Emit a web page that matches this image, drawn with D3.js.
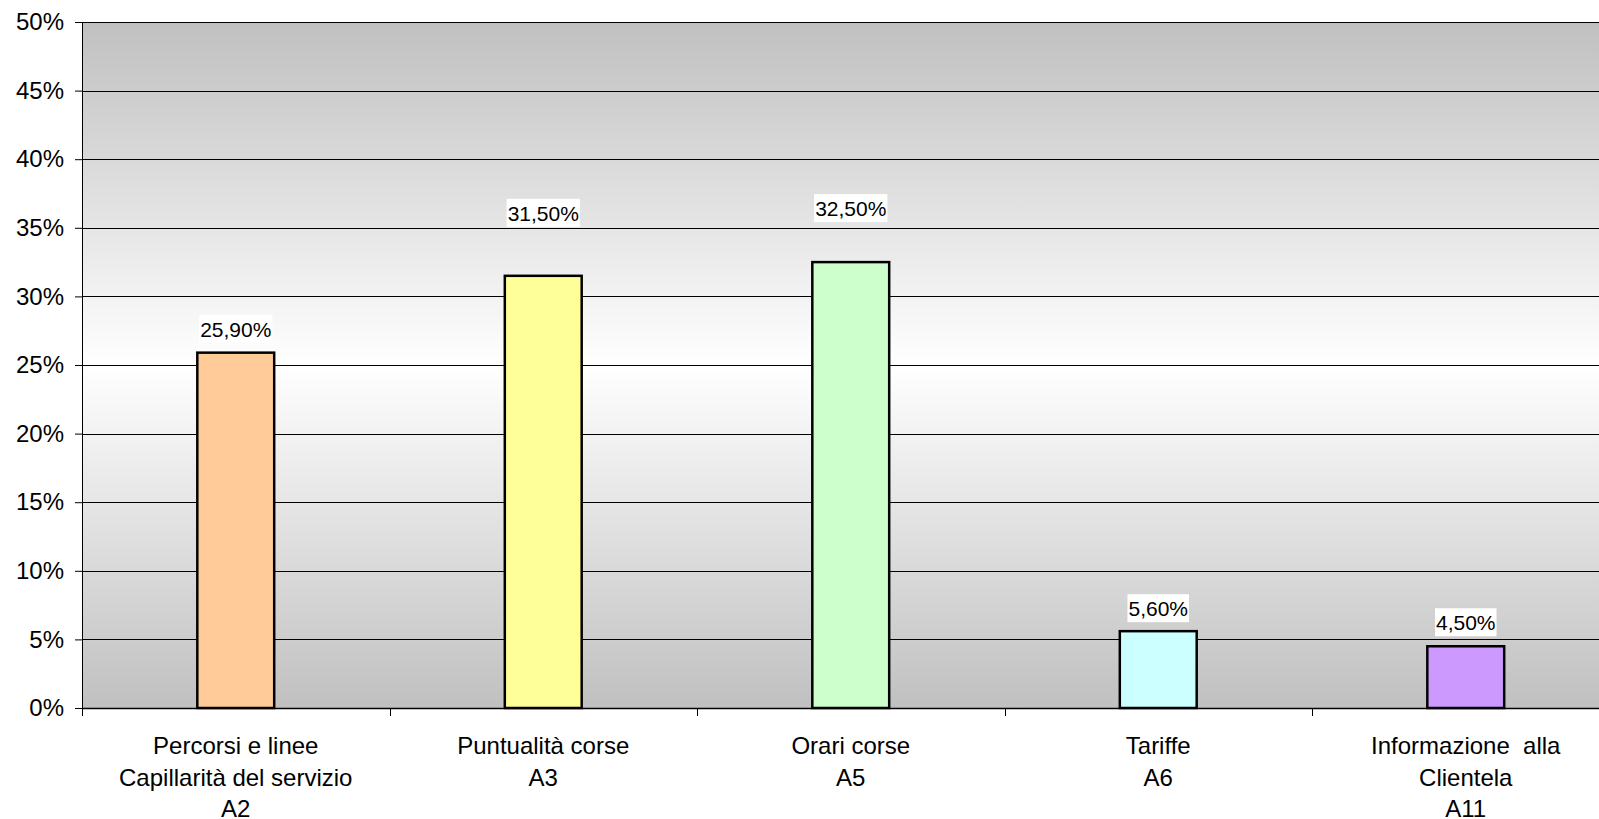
<!DOCTYPE html>
<html>
<head>
<meta charset="utf-8">
<script src="https://cdn.jsdelivr.net/npm/d3@7/dist/d3.min.js"></script>
<style>
	html, body { margin: 0; padding: 0; background: #fff; }
	svg { display: block; font-family: "Liberation Sans", Arial, sans-serif; }
	text.cat, text.cat tspan { white-space: pre; }
</style>
</head>
<body>
<svg id="chart" width="1599" height="819"></svg>
<script>
// chart data
var categories = ["A2", "A3", "A5", "A6", "A11"];
var categoryNames = [
	["Percorsi e linee", "Capillarità del servizio", "A2"],
	["Puntualità corse", "A3"],
	["Orari corse", "A5"],
	["Tariffe", "A6"],
	["Informazione  alla", "Clientela", "A11"]
];
var values = [25.9, 31.5, 32.5, 5.6, 4.5];
var valueLabels = ["25,90%", "31,50%", "32,50%", "5,60%", "4,50%"];
var barColors = ["#FFCC99", "#FFFF99", "#CCFFCC", "#CCFFFF", "#CC99FF"];
var yTicks = [0, 5, 10, 15, 20, 25, 30, 35, 40, 45, 50];

// layout
var margin = { left: 82, top: 22 };
var plotW = 1537.5;
var plotH = 686;
// the data labels sit a bit higher on A3 and A5 in the original
var labelLift = [10, 49, 40, 9, 10];

var svg = d3.select("#chart");

var defs = svg.append("defs");
var grad = defs.append("linearGradient")
	.attr("id", "bg")
	.attr("x1", 0).attr("y1", 0).attr("x2", 0).attr("y2", 1);
grad.append("stop").attr("offset", "0%").attr("stop-color", "#c0c0c0");
grad.append("stop").attr("offset", "50%").attr("stop-color", "#ffffff");
grad.append("stop").attr("offset", "100%").attr("stop-color", "#c0c0c0");

var g = svg.append("g").attr("transform", "translate(" + margin.left + "," + margin.top + ")");

var x = d3.scaleBand().domain(categories).range([0, plotW]).paddingInner(0).paddingOuter(0);
var y = d3.scaleLinear().domain([0, 50]).range([plotH, 0]);

g.append("rect")
	.attr("width", plotW)
	.attr("height", plotH)
	.attr("fill", "url(#bg)");

// gridlines
g.selectAll("line.grid")
	.data(yTicks.filter(function(t) { return t > 0; }))
	.enter().append("line")
	.attr("class", "grid")
	.attr("x1", 0).attr("x2", plotW)
	.attr("y1", function(d) { return Math.round(y(d)) + 0.5; })
	.attr("y2", function(d) { return Math.round(y(d)) + 0.5; })
	.attr("stroke", "#000")
	.attr("stroke-width", 1);

// y axis
var yAxis = d3.axisLeft(y)
	.tickValues(yTicks)
	.tickSize(7)
	.tickPadding(11)
	.tickFormat(function(d) { return d + "%"; });

var yg = g.append("g").call(yAxis);
yg.select(".domain").attr("stroke", "#000").attr("d", "M0.5," + plotH + "V0");
yg.selectAll(".tick line").attr("stroke", "#000");
yg.selectAll(".tick text")
	.attr("font-size", 24)
	.attr("fill", "#000")
	.attr("font-family", "Liberation Sans, Arial, sans-serif");

// bars
var bw = x.bandwidth() * 0.25;
g.selectAll("rect.bar")
	.data(values)
	.enter().append("rect")
	.attr("class", "bar")
	.attr("x", function(d, i) { return x(categories[i]) + (x.bandwidth() - bw) / 2; })
	.attr("y", function(d) { return y(d); })
	.attr("width", bw)
	.attr("height", function(d) { return plotH - y(d); })
	.attr("fill", function(d, i) { return barColors[i]; })
	.attr("stroke", "#000")
	.attr("stroke-width", 2.5);

// x axis
var xg = g.append("g").attr("transform", "translate(0," + plotH + ")");
xg.append("line")
	.attr("x1", 0).attr("x2", plotW)
	.attr("y1", 0.5).attr("y2", 0.5)
	.attr("stroke", "#000")
	.attr("stroke-width", 1.5);
xg.selectAll("line.tick")
	.data(d3.range(categories.length + 1))
	.enter().append("line")
	.attr("class", "tick")
	.attr("x1", function(i) { return Math.round(i * x.step()) + 0.5; })
	.attr("x2", function(i) { return Math.round(i * x.step()) + 0.5; })
	.attr("y1", 0).attr("y2", 8)
	.attr("stroke", "#000");

var cat = xg.selectAll("text.cat")
	.data(categories)
	.enter().append("text")
	.attr("class", "cat")
	.attr("xml:space", "preserve")
	.attr("text-anchor", "middle")
	.attr("font-size", 24)
	.attr("fill", "#000")
	.attr("x", function(d) { return x(d) + x.bandwidth() / 2; })
	.attr("y", 46);
cat.each(function(d, i) {
	var t = d3.select(this);
	categoryNames[i].forEach(function(line, k) {
		t.append("tspan")
			.attr("x", x(d) + x.bandwidth() / 2)
			.attr("dy", k === 0 ? 0 : 31.5)
			.text(line);
	});
});

// data labels with white background
var lab = g.selectAll("g.lab")
	.data(values)
	.enter().append("g")
	.attr("class", "lab")
	.attr("transform", function(d, i) {
		return "translate(" + (x(categories[i]) + x.bandwidth() / 2) + "," + (y(d) - labelLift[i]) + ")";
	});
lab.append("text")
	.attr("text-anchor", "middle")
	.attr("font-size", 21)
	.attr("fill", "#000")
	.attr("y", -6)
	.text(function(d, i) { return valueLabels[i]; });
lab.each(function() {
	var node = d3.select(this);
	var bb = node.select("text").node().getBBox();
	node.insert("rect", "text")
		.attr("x", bb.x - 1)
		.attr("y", -28)
		.attr("width", bb.width + 2)
		.attr("height", 28)
		.attr("fill", "#fff");
});
</script>
</body>
</html>
